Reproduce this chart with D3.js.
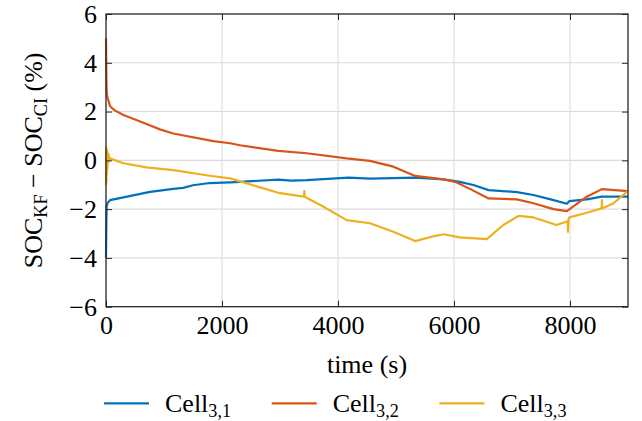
<!DOCTYPE html>
<html><head><meta charset="utf-8">
<script src="https://cdn.jsdelivr.net/npm/d3@7"></script>
<style>
html,body{margin:0;padding:0;background:#fff;}
svg text{font-family:"Liberation Serif",serif;fill:#000;}
</style>
</head><body>
<svg id="chart" width="642" height="421"></svg>
<script>
// ---- data (time in s, SOC difference in %) ----
const xTicks = [0, 2000, 4000, 6000, 8000];
const yTicks = [-6, -4, -2, 0, 2, 4, 6];
const seriesNames = ["3,1", "3,2", "3,3"];
const seriesColors = ["#0072BD", "#D95319", "#EDB120"];

const cell31 = [[0,-4.0],[4,-3.0],[10,-1.9],[25,-1.76],[70,-1.63],[300,-1.52],[760,-1.29],[1160,-1.17],[1330,-1.13],[1500,-1.02],[1790,-0.93],[2140,-0.90],[2310,-0.88],[2970,-0.79],[3200,-0.83],[3460,-0.81],[4180,-0.71],[4550,-0.75],[5330,-0.71],[5820,-0.78],[6100,-0.88],[6350,-1.02],[6595,-1.22],[7085,-1.30],[7370,-1.42],[7700,-1.62],[7945,-1.78],[7990,-1.67],[8290,-1.60],[8550,-1.49],[9000,-1.49]];

const cell32 = [[0,5.0],[4,4.0],[10,2.9],[20,2.62],[40,2.47],[70,2.22],[150,2.05],[300,1.86],[700,1.49],[930,1.27],[1160,1.10],[1850,0.79],[2140,0.70],[2310,0.62],[2970,0.39],[3460,0.29],[4150,0.08],[4550,-0.02],[4955,-0.26],[5330,-0.64],[5820,-0.78],[6020,-0.88],[6300,-1.20],[6595,-1.56],[7085,-1.60],[7370,-1.76],[7715,-2.00],[7945,-2.08],[8290,-1.49],[8550,-1.18],[9000,-1.26]];

const cell33 = [[0,-1.0],[3,0.5],[7,-0.9],[11,0.45],[15,-0.6],[20,0.4],[26,-0.35],[32,0.3],[40,-0.1],[48,0.25],[58,0.05],[70,0.08],[300,-0.12],[700,-0.29],[1160,-0.40],[1790,-0.63],[2140,-0.74],[2310,-0.86],[2655,-1.11],[2970,-1.33],[3415,-1.49],[3420,-1.26],[3425,-1.49],[3750,-1.90],[4150,-2.45],[4550,-2.58],[4955,-2.93],[5330,-3.31],[5615,-3.13],[5820,-3.03],[6100,-3.16],[6565,-3.23],[6850,-2.65],[7110,-2.28],[7370,-2.34],[7770,-2.65],[7960,-2.50],[7965,-2.93],[7975,-2.40],[7990,-2.34],[8290,-2.15],[8545,-1.97],[8550,-1.63],[8555,-1.97],[8750,-1.76],[9000,-1.25]];

const allSeries = [cell31, cell32, cell33];

// ---- layout ----
const svg = d3.select("#chart");
const L = 106, R = 628, T = 14, B = 306.7;
const x = d3.scaleLinear().domain([0, 9000]).range([L, R]);
const y = d3.scaleLinear().domain([-6, 6]).range([B, T]);
const FS = 26;
const axisCol = "#262626";
const gridCol = "#dcdcdc";

// grid
const grid = svg.append("g");
grid.selectAll("line.gx").data(xTicks.filter(d => d > 0)).join("line")
  .attr("x1", d => x(d)).attr("x2", d => x(d)).attr("y1", T).attr("y2", B)
  .attr("stroke", gridCol).attr("stroke-width", 1.1);
grid.selectAll("line.gy").data(yTicks.filter(d => d > -6 && d < 6)).join("line")
  .attr("x1", L).attr("x2", R).attr("y1", d => y(d)).attr("y2", d => y(d))
  .attr("stroke", gridCol).attr("stroke-width", 1.1);

// series
const line = d3.line().x(d => x(d[0])).y(d => y(d[1]));
svg.append("g").selectAll("path").data(allSeries).join("path")
  .attr("d", line).attr("fill", "none")
  .attr("stroke", (d, i) => seriesColors[i]).attr("stroke-width", 2.2)
  .attr("stroke-linejoin", "round");

// axes
function styleAxis(g) {
  g.attr("font-family", null);
  g.select(".domain").remove();
  g.selectAll(".tick line").attr("stroke", axisCol).attr("stroke-width", 1);
  g.selectAll(".tick text").attr("font-size", FS).attr("fill", "#000");
}
svg.append("g").attr("transform", `translate(0,${B})`)
  .call(d3.axisBottom(x).tickValues(xTicks).tickSize(-6).tickPadding(9).tickFormat(d3.format("d")))
  .call(styleAxis);
svg.append("g").attr("transform", `translate(0,${T})`)
  .call(d3.axisTop(x).tickValues(xTicks).tickSize(-6).tickFormat(""))
  .call(styleAxis);
svg.append("g").attr("transform", `translate(${L},0)`)
  .call(d3.axisLeft(y).tickValues(yTicks).tickSize(-6).tickPadding(9))
  .call(styleAxis);
svg.append("g").attr("transform", `translate(${R},0)`)
  .call(d3.axisRight(y).tickValues(yTicks).tickSize(-6).tickFormat(""))
  .call(styleAxis);

// frame
svg.append("rect").attr("x", L).attr("y", T).attr("width", R - L).attr("height", B - T)
  .attr("fill", "none").attr("stroke", axisCol).attr("stroke-width", 1.3);

// x label
svg.append("text").attr("x", (L + R) / 2).attr("y", 373).attr("text-anchor", "middle")
  .attr("font-size", FS).text("time (s)");

// y label
const yl = svg.append("text").attr("transform", `translate(41.5,${(T + B) / 2}) rotate(-90)`)
  .attr("text-anchor", "middle").attr("font-size", FS);
yl.append("tspan").text("SOC");
yl.append("tspan").attr("font-size", FS * 0.7).attr("dy", 5).text("KF");
yl.append("tspan").attr("dy", -5).text(" − SOC");
yl.append("tspan").attr("font-size", FS * 0.7).attr("dy", 5).text("CI");
yl.append("tspan").attr("dy", -5).text(" (%)");

// legend
const legX = [104, 271.7, 439.4];
const leg = svg.append("g");
seriesNames.forEach((n, i) => {
  leg.append("line").attr("x1", legX[i]).attr("x2", legX[i] + 45).attr("y1", 403.3).attr("y2", 403.3)
    .attr("stroke", seriesColors[i]).attr("stroke-width", 2.2);
  const t = leg.append("text").attr("x", legX[i] + 61).attr("y", 411.5).attr("font-size", FS);
  t.append("tspan").text("Cell");
  t.append("tspan").attr("font-size", FS * 0.7).attr("dy", 5).text(n);
});
</script>
</body></html>
